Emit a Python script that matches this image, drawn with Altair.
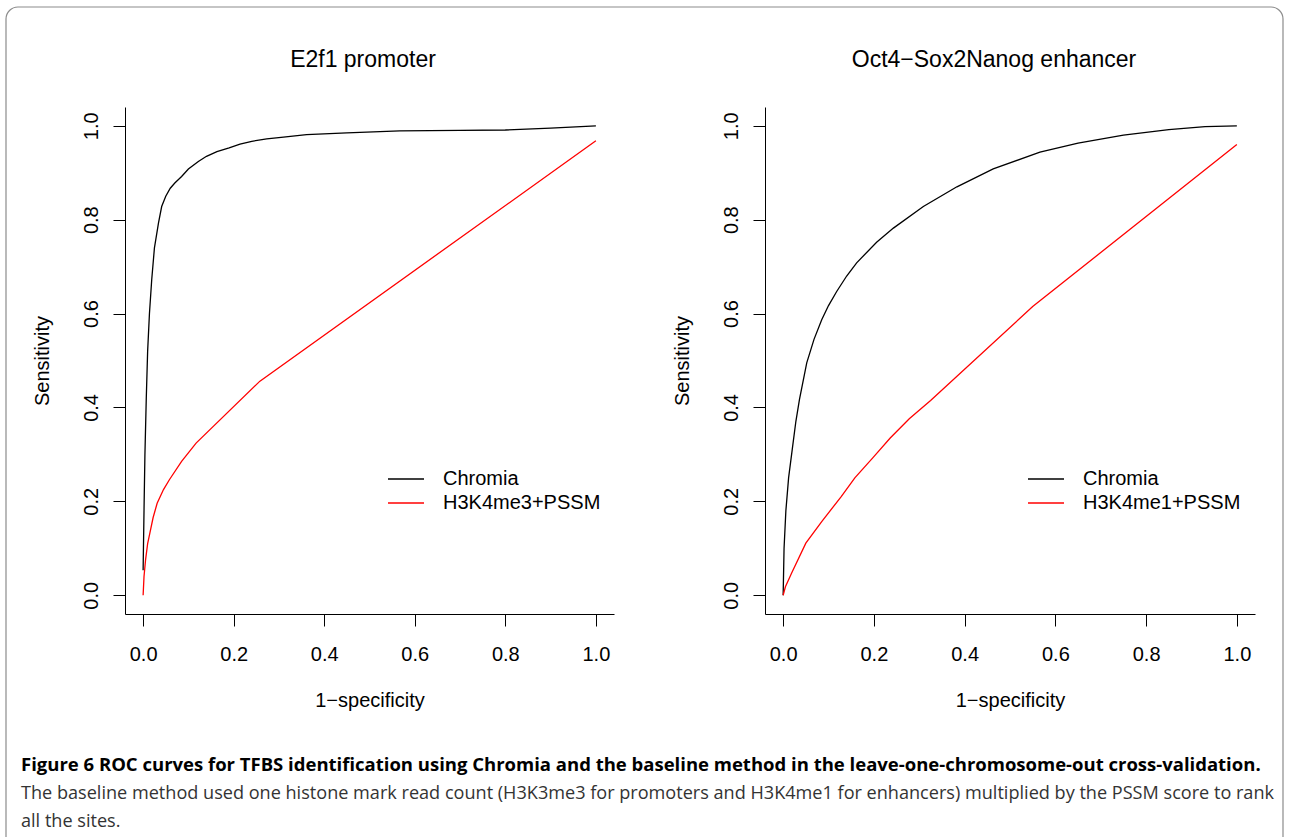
import altair as alt
import pandas as pd

# ---------------- data ----------------
tick_values = [0.0, 0.2, 0.4, 0.6, 0.8, 1.0]
panel_titles = ["E2f1 promoter", "Oct4\u2212Sox2Nanog enhancer"]
left_labels = ["Chromia", "H3K4me3+PSSM"]
right_labels = ["Chromia", "H3K4me1+PSSM"]
series_colors = ["#000000", "#FF0000"]
x_title = "1\u2212specificity"
y_title = "Sensitivity"

e2f1_chromia_fpr = [0.0, 0.002, 0.004, 0.007, 0.010, 0.014, 0.019, 0.025, 0.034, 0.041, 0.050, 0.060,
                    0.070, 0.085, 0.100, 0.122, 0.140, 0.163, 0.190, 0.214, 0.240, 0.273, 0.310,
                    0.361, 0.450, 0.567, 0.700, 0.800, 0.900, 1.000]
e2f1_chromia_tpr = [0.053, 0.18, 0.30, 0.42, 0.52, 0.60, 0.672, 0.74, 0.793, 0.828, 0.850, 0.867,
                    0.878, 0.892, 0.908, 0.924, 0.935, 0.945, 0.953, 0.961, 0.967, 0.972, 0.976,
                    0.981, 0.985, 0.989, 0.990, 0.991, 0.995, 1.000]
e2f1_base_fpr = [0.0, 0.002, 0.0055, 0.010, 0.015, 0.022, 0.031, 0.045, 0.058, 0.085, 0.117, 0.258, 1.0]
e2f1_base_tpr = [0.0, 0.040, 0.076, 0.110, 0.133, 0.165, 0.196, 0.225, 0.246, 0.285, 0.324, 0.456, 0.968]

oct_chromia_fpr = [0.0, 0.002, 0.006, 0.012, 0.020, 0.028, 0.036, 0.052, 0.068, 0.085, 0.100, 0.118,
                   0.140, 0.162, 0.206, 0.243, 0.309, 0.383, 0.463, 0.566, 0.650, 0.750, 0.850,
                   0.930, 1.000]
oct_chromia_tpr = [0.0, 0.10, 0.18, 0.25, 0.31, 0.37, 0.417, 0.495, 0.545, 0.587, 0.617, 0.647,
                   0.680, 0.708, 0.752, 0.782, 0.828, 0.870, 0.908, 0.944, 0.963, 0.980, 0.992,
                   0.998, 1.000]
oct_base_fpr = [0.0, 0.005, 0.019, 0.050, 0.085, 0.128, 0.158, 0.197, 0.236, 0.278, 0.325, 0.550, 1.000]
oct_base_tpr = [0.0, 0.018, 0.048, 0.111, 0.157, 0.210, 0.250, 0.292, 0.335, 0.376, 0.415, 0.615, 0.960]

caption_lines = [
    "Figure 6 ROC curves for TFBS identification using Chromia and the baseline method in the leave-one-chromosome-out cross-validation.",
    "The baseline method used one histone mark read count (H3K3me3 for promoters and H3K4me1 for enhancers) multiplied by the PSSM score to rank",
    "all the sites.",
]

# ---------------- layout ----------------
W, H = 1289, 837
AX_Y, TOP = 614, 107
PANELS_X = [(125, 614), (765, 1255)]
DOM = [-0.04, 1.04]
FONT = "Liberation Sans"
CAP_FONT = "Open Sans"


def panel_df(cx, cy, bx, by, labels):
    rows = []
    for i, (x, y) in enumerate(zip(cx, cy)):
        rows.append({"fpr": x, "tpr": y, "method": labels[0], "idx": i})
    for i, (x, y) in enumerate(zip(bx, by)):
        rows.append({"fpr": x, "tpr": y, "method": labels[1], "idx": i})
    return pd.DataFrame(rows)


def line_layer(df, x0, x1, labels):
    return alt.Chart(df).mark_line(strokeWidth=1.3).encode(
        x=alt.X("fpr:Q",
                scale=alt.Scale(domain=DOM, range=[x0, x1], nice=False, zero=False),
                axis=alt.Axis(orient="bottom", offset=AX_Y - H, values=tick_values, format=".1f",
                              grid=False, tickSize=12, tickColor="black", domainColor="black",
                              tickWidth=1, domainWidth=1,
                              labelColor="black", labelFont=FONT, labelFontSize=20,
                              labelPadding=18, labelBaseline="top", labelFlush=False,
                              labelOverlap=False, labelBound=False,
                              title=x_title, titleFont=FONT, titleFontSize=20,
                              titleFontWeight="normal", titleColor="black",
                              titleY=92, titleBaseline="alphabetic")),
        y=alt.Y("tpr:Q",
                scale=alt.Scale(domain=DOM, range=[AX_Y, TOP], nice=False, zero=False),
                axis=alt.Axis(orient="left", offset=-x0, values=tick_values, format=".1f",
                              grid=False, tickSize=12, tickColor="black", domainColor="black",
                              tickWidth=1, domainWidth=1,
                              labelColor="black", labelFont=FONT, labelFontSize=20,
                              labelAngle=270, labelAlign="center", labelBaseline="alphabetic",
                              labelPadding=16, labelFlush=False, labelOverlap=False, labelBound=False,
                              title=y_title, titleFont=FONT, titleFontSize=20,
                              titleFontWeight="normal", titleColor="black", titleAngle=270,
                              titleX=-77, titleBaseline="alphabetic")),
        color=alt.Color("method:N", scale=alt.Scale(domain=labels, range=series_colors), legend=None),
        order="idx:Q",
    )


def legend_layers(labels, line_x0, text_x):
    df = pd.DataFrame({"label": labels, "color": series_colors, "row": [0, 1]})
    yenc = alt.Y("row:Q", scale=alt.Scale(domain=[0, 1], range=[479, 503]), axis=None)
    rules = alt.Chart(df).mark_rule(strokeWidth=1.3).encode(
        x=alt.value(line_x0), x2=alt.value(line_x0 + 36), y=yenc,
        color=alt.Color("color:N", scale=None))
    texts = alt.Chart(df).mark_text(align="left", baseline="middle", font=FONT, fontSize=20,
                                    color="black").encode(
        x=alt.value(text_x), y=yenc, text="label:N")
    return [rules, texts]


def text_layer(txt, x, y, **kw):
    return alt.Chart(pd.DataFrame({"t": [txt]})).mark_text(**kw).encode(
        x=alt.value(x), y=alt.value(y), text="t:N")


frame = alt.Chart(pd.DataFrame({"a": [0]})).mark_rect(
    fillOpacity=0, stroke="#8c8c8c", strokeWidth=1.2, cornerRadius=12).encode(
    x=alt.value(6), x2=alt.value(1283), y=alt.value(7), y2=alt.value(870))

left = line_layer(panel_df(e2f1_chromia_fpr, e2f1_chromia_tpr, e2f1_base_fpr, e2f1_base_tpr, left_labels),
                  PANELS_X[0][0], PANELS_X[0][1], left_labels)
right = line_layer(panel_df(oct_chromia_fpr, oct_chromia_tpr, oct_base_fpr, oct_base_tpr, right_labels),
                   PANELS_X[1][0], PANELS_X[1][1], right_labels)

layers = [frame, left, right]
layers += legend_layers(left_labels, 388, 443)
layers += legend_layers(right_labels, 1028, 1083)
layers.append(text_layer(panel_titles[0], 363, 67, align="center", baseline="alphabetic",
                         font=FONT, fontSize=23, color="black"))
layers.append(text_layer(panel_titles[1], 994, 67, align="center", baseline="alphabetic",
                         font=FONT, fontSize=23, color="black"))
layers.append(text_layer(caption_lines[0], 21, 771, align="left", baseline="alphabetic",
                         font=CAP_FONT, fontSize=18.5, fontWeight="bold", color="#000000"))
layers.append(text_layer(caption_lines[1], 21, 799, align="left", baseline="alphabetic",
                         font=CAP_FONT, fontSize=18.1, color="#333333"))
layers.append(text_layer(caption_lines[2], 21, 827, align="left", baseline="alphabetic",
                         font=CAP_FONT, fontSize=18.1, color="#333333"))

chart = alt.layer(*layers).resolve_scale(
    x="independent", y="independent", color="independent"
).properties(
    width=W, height=H, autosize=alt.AutoSizeParams(type="none"), padding=0,
    background="white"
).configure_view(strokeWidth=0)

chart.save("out.html", embed_options={"renderer": "svg", "actions": False})
